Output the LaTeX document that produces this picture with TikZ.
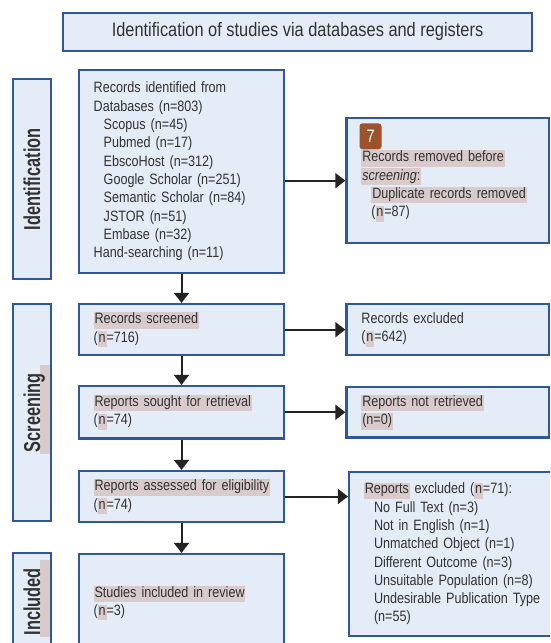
\documentclass[tikz,border=0pt]{standalone}
\usepackage{fontspec}
\setmainfont{Liberation Sans}[FakeStretch=0.84]
\newfontfamily\lblfont{Liberation Sans}[FakeStretch=0.71]
\usetikzlibrary{arrows.meta}

\definecolor{boxblue}{RGB}{47,87,155}
\definecolor{boxfill}{RGB}{228,236,248}
\definecolor{txtgray}{RGB}{50,50,50}
\definecolor{arrgray}{RGB}{35,35,35}
\definecolor{hlgray}{RGB}{217,203,203}
\definecolor{badgebrown}{RGB}{156,82,45}

\newcommand{\indnt}{\hspace*{10pt}}
\newcommand{\hlbox}[1]{{\setlength{\fboxsep}{0.8pt}\colorbox{hlgray}{\rule[-4pt]{0pt}{14pt}#1}}}
\newsavebox{\lblsave}
\newcommand{\lowhl}[1]{\sbox{\lblsave}{#1}\rlap{\hspace*{-2pt}\textcolor{hlgray}{\rule[-10pt]{\dimexpr\wd\lblsave+10pt\relax}{10pt}}}\usebox{\lblsave}}

\begin{document}
\begin{tikzpicture}[x=1pt, y=1pt,
    box/.style={draw=boxblue, fill=boxfill, line width=2.2pt, text=txtgray,
      font=\fontsize{15}{18.3}\selectfont, align=left, inner xsep=15pt, inner ysep=0pt},
    head/.style={draw=boxblue, fill=boxfill, line width=2.2pt, text=txtgray,
      font=\fontsize{19.5}{22}\selectfont},
    lbl/.style={draw=boxblue, fill=boxfill, line width=2.2pt, text=txtgray, rotate=90,
      font=\lblfont\bfseries\fontsize{23}{26}\selectfont, minimum height=38.3pt, inner sep=0pt,
      text height=16.5pt, text depth=0pt},
    badge/.style={fill=badgebrown, rounded corners=3pt, text=white, inner sep=0pt,
      font=\fontsize{18}{18}\selectfont, minimum width=22pt, minimum height=26pt},
    arr/.style={-{Triangle[length=10pt,width=15pt]}, line width=2pt, draw=arrgray}]
  \clip (0,0) rectangle (550,-643);

  \node[head, minimum width=468.4pt, minimum height=38pt] (T) at (297.5,-31.7)
    {Identification of studies via databases and registers};

  % phase labels
  \node[lbl, minimum width=200pt] (Li) at (31.85,-179.3) {Identification};
  \node[lbl, minimum width=217.3pt] (Ls) at (31.85,-412.65) {\lowhl{Screening}};
  \node[lbl, minimum width=97pt] (Ln) at (31.85,-601.6) {\lowhl{Included}};

  % left column
  \node[box, text width=175.6pt, minimum height=202.7pt] (R) at (181.5,-171.4)
    {Records identified from\\Databases (n=803)\\\indnt Scopus (n=45)\\\indnt Pubmed (n=17)\\
     \indnt EbscoHost (n=312)\\\indnt Google Scholar (n=251)\\\indnt Semantic Scholar (n=84)\\
     \indnt JSTOR (n=51)\\\indnt Embase (n=32)\\Hand-searching (n=11)};
  \node[box, text width=175.6pt, minimum height=51.3pt, node distance=158.25pt, below of=R] (S)
    {\hlbox{Records screened}\\(\hlbox{n}=716)};
  \node[box, text width=175.6pt, minimum height=52.5pt, node distance=82.6pt, below of=S] (P)
    {\hlbox{Reports sought for retrieval}\\(\hlbox{n}=74)};
  \node[box, text width=175.6pt, minimum height=51pt, node distance=84.25pt, below of=P] (A)
    {\hlbox{Reports assessed for eligibility}\\(\hlbox{n}=74)};
  \node[box, text width=175.6pt, minimum height=98pt, node distance=106.5pt, below of=A] (I)
    {\hlbox{Studies included in review}\\(\hlbox{n}=3)};

  % right column
  \node[box, text width=172.8pt, minimum height=125.3pt, node distance=266.35pt, right of=R, yshift=-9.25pt] (D)
    {\rule{0pt}{22pt}\hlbox{Records removed before}\\\hlbox{\textit{screening}:}\\\indnt\hlbox{Duplicate records removed}\\\indnt(\hlbox{n}=87)};
  \node[badge] (B) at (370.5,-136.3) {7};
  \node[box, text width=172.8pt, minimum height=51pt, node distance=266.35pt, right of=S] (E)
    {Records excluded\\(\hlbox{n}=642)};
  \node[box, text width=172.8pt, minimum height=50.3pt, node distance=266.35pt, right of=P] (N)
    {\hlbox{Reports not retrieved}\\\hlbox{(n=0)}};
  \node[box, text width=181pt, minimum height=164.3pt, node distance=273pt, right of=A, yshift=-57.35pt] (X)
    {\hlbox{Reports} excluded (\hlbox{n}=71):\\\indnt No Full Text (n=3)\\\indnt Not in English (n=1)\\
     \indnt Unmatched Object (n=1)\\\indnt Different Outcome (n=3)\\\indnt Unsuitable Population (n=8)\\
     \indnt Undesirable Publication Type\\\indnt(n=55)};

  \draw[arr] (R) -- (S);
  \draw[arr] (S) -- (P);
  \draw[arr] (P) -- (A);
  \draw[arr] (A) -- (I);
  \draw[arr] (R.east |- D) -- (D.west);
  \draw[arr] (S) -- (E);
  \draw[arr] (P) -- (N);
  \draw[arr] (A) -- (A -| X.west);
\end{tikzpicture}
\end{document}
